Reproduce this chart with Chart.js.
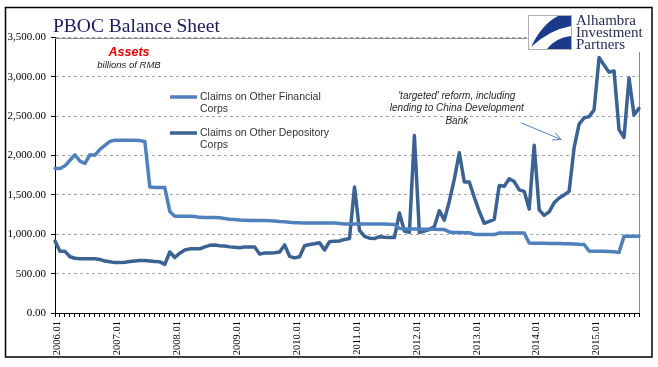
<!DOCTYPE html>
<html>
<head>
    <title>PBOC Balance Sheet</title>
    <script src="https://cdn.jsdelivr.net/npm/chart.js"></script>
    <style>
        html, body { margin: 0; padding: 0; background: #fff; }
        #wrap { width: 658px; height: 367px; }
    </style>
</head>
<body>
    <div id="wrap"><canvas id="pbocChart" width="658" height="367"></canvas></div>

    <script>
        // monthly categories 2006.01 .. 2015.10
        const months = [];
        for (let y = 2006; y <= 2015; y++) {
            for (let m = 1; m <= 12; m++) {
                if (y === 2015 && m > 10) break;
                months.push(y + '.' + String(m).padStart(2, '0'));
            }
        }

        // billions of RMB
        const financialCorps = [
            1835, 1835, 1870, 1940, 2010, 1930, 1900, 2010, 2005, 2080,
            2130, 2180, 2195, 2195, 2195, 2195, 2195, 2190, 2180, 1600,
            1594, 1594, 1594, 1290, 1230, 1229, 1229, 1229, 1225, 1215,
            1212, 1212, 1212, 1210, 1200, 1192, 1188, 1182, 1178, 1175,
            1175, 1175, 1175, 1172, 1168, 1162, 1158, 1152, 1148, 1145,
            1144, 1144, 1144, 1144, 1144, 1144, 1142, 1138, 1130, 1130,
            1130, 1130, 1130, 1130, 1130, 1130, 1130, 1128, 1125, 1075,
            1068, 1068, 1066, 1066, 1065, 1065, 1064, 1062, 1060, 1030,
            1022, 1022, 1021, 1020, 1000, 996, 996, 996, 996, 1016,
            1016, 1016, 1016, 1016, 1016, 889, 886, 885, 885, 884,
            883, 882, 880, 879, 877, 872, 870, 787, 785, 784,
            783, 780, 777, 770, 974, 974, 974, 974
        ];

        const depositoryCorps = [
            913, 785, 783, 715, 695, 690, 690, 690, 690, 680,
            660, 650, 640, 640, 645, 653, 660, 668, 668, 660,
            653, 650, 618, 775, 705, 760, 800, 815, 815, 815,
            840, 860, 865, 855, 850, 840, 835, 828, 840, 840,
            840, 748, 762, 762, 765, 775, 865, 720, 700, 715,
            855, 870, 880, 893, 800, 905, 913, 915, 935, 945,
            1600, 1050, 975, 950, 945, 970, 962, 960, 958, 1270,
            1042, 1025, 2255, 1022, 1040, 1060, 1100, 1300, 1180, 1420,
            1700, 2035, 1665, 1665, 1470, 1290, 1140, 1165, 1190, 1620,
            1610, 1705, 1670, 1565, 1545, 1320, 2130, 1310, 1240, 1285,
            1400, 1460, 1500, 1545, 2100, 2400, 2480, 2495, 2580, 3245,
            3150, 3060, 3075, 2330, 2230, 2985, 2515, 2600
        ];

        const seriesNames = ['Claims on Other Financial Corps', 'Claims on Other Depository Corps'];
        const seriesColors = ['#4F81BD', '#3A6292'];

        const noteLines = ["'targeted' reform, including", 'lending to China Development', 'Bank'];
        const logoLines = ['Alhambra', 'Investment', 'Partners'];

        // extra drawing: frame, title, notes, legend, logo
        const decorPlugin = {
            id: 'decor',
            beforeDraw(chart) {
                const ctx = chart.ctx;
                ctx.save();
                ctx.fillStyle = '#fff';
                ctx.fillRect(0, 0, chart.width, chart.height);
                ctx.restore();
            },
            beforeDatasetsDraw(chart) {
                const ctx = chart.ctx;
                const a = chart.chartArea;
                ctx.save();
                ctx.strokeStyle = '#8C8C8C';
                ctx.lineWidth = 1;
                ctx.beginPath();
                ctx.moveTo(a.left, Math.round(a.top) + 0.5);
                ctx.lineTo(a.right, Math.round(a.top) + 0.5);
                ctx.moveTo(Math.round(a.right) + 0.5, a.top);
                ctx.lineTo(Math.round(a.right) + 0.5, a.bottom);
                ctx.stroke();
                ctx.restore();
            },
            afterDraw(chart) {
                const ctx = chart.ctx;
                const a = chart.chartArea;
                const xs = chart.scales.x;
                const ys = chart.scales.y;
                ctx.save();

                // title
                ctx.fillStyle = '#1A1A5C';
                ctx.font = '19.5px "Liberation Serif"';
                ctx.textAlign = 'left';
                ctx.textBaseline = 'alphabetic';
                ctx.fillText('PBOC Balance Sheet', 53, 31.5);

                // subtitle
                ctx.textAlign = 'center';
                ctx.fillStyle = '#E00000';
                ctx.font = 'italic bold 12.5px "Liberation Sans"';
                ctx.fillText('Assets', a.left + 74, 56);
                ctx.fillStyle = '#222';
                ctx.font = 'italic 9.5px "Liberation Sans"';
                ctx.fillText('billions of RMB', a.left + 74, 68);

                // legend
                ctx.textAlign = 'left';
                ctx.textBaseline = 'middle';
                ctx.font = '10.5px "Liberation Sans"';
                const legendY = [97, 133];
                seriesNames.forEach((name, i) => {
                    const y = legendY[i];
                    ctx.strokeStyle = seriesColors[i];
                    ctx.lineWidth = 3.5;
                    ctx.beginPath();
                    ctx.moveTo(170, y);
                    ctx.lineTo(197, y);
                    ctx.stroke();
                    ctx.fillStyle = '#333';
                    const words = name.split(' ');
                    ctx.fillText(words.slice(0, -1).join(' '), 200, y);
                    ctx.fillText(words[words.length - 1], 200, y + 12);
                });

                // note + arrow
                ctx.fillStyle = '#262626';
                ctx.font = 'italic 10px "Liberation Sans"';
                ctx.textAlign = 'center';
                ctx.textBaseline = 'middle';
                const nx = xs.getPixelForValue(80.5);
                noteLines.forEach((t, i) => {
                    ctx.fillText(t, nx, ys.getPixelForValue(2755) + i * 12.5);
                });
                const x0 = xs.getPixelForValue(93.4), y0 = ys.getPixelForValue(2415);
                const x1 = xs.getPixelForValue(101.4), y1 = ys.getPixelForValue(2204);
                const ang = Math.atan2(y1 - y0, x1 - x0);
                ctx.strokeStyle = '#4F81BD';
                ctx.lineWidth = 1;
                ctx.beginPath();
                ctx.moveTo(x0, y0);
                ctx.lineTo(x1, y1);
                ctx.moveTo(x1 - 9 * Math.cos(ang - 0.45), y1 - 9 * Math.sin(ang - 0.45));
                ctx.lineTo(x1, y1);
                ctx.lineTo(x1 - 9 * Math.cos(ang + 0.45), y1 - 9 * Math.sin(ang + 0.45));
                ctx.stroke();

                // logo
                ctx.fillStyle = '#fff';
                ctx.fillRect(527, 9, 123, 43);
                ctx.strokeStyle = '#B0B0B0';
                ctx.lineWidth = 1;
                ctx.strokeRect(528.5, 15.5, 43, 34);
                ctx.fillStyle = '#1C3A8A';
                ctx.beginPath();
                ctx.moveTo(571, 16);
                ctx.lineTo(571, 26);
                ctx.quadraticCurveTo(549, 30, 531, 47);
                ctx.quadraticCurveTo(542, 24, 558, 16);
                ctx.closePath();
                ctx.fill();
                ctx.beginPath();
                ctx.moveTo(547, 49);
                ctx.quadraticCurveTo(555, 38, 571, 36);
                ctx.lineTo(571, 49);
                ctx.closePath();
                ctx.fill();
                ctx.fillStyle = '#1F2A55';
                ctx.font = '15px "Liberation Serif"';
                ctx.textAlign = 'left';
                ctx.textBaseline = 'alphabetic';
                logoLines.forEach((t, i) => ctx.fillText(t, 576, 25 + i * 12));

                // outer frame
                ctx.strokeStyle = '#000';
                ctx.lineWidth = 1.5;
                ctx.strokeRect(5.5, 7.5, 646.5, 349.5);
                ctx.restore();
            }
        };

        const ctx = document.getElementById('pbocChart').getContext('2d');
        const chart = new Chart(ctx, {
            type: 'line',
            data: {
                labels: months,
                datasets: [
                    {
                        label: seriesNames[0],
                        data: financialCorps,
                        borderColor: seriesColors[0],
                        borderWidth: 3.5,
                        pointRadius: 0,
                        tension: 0,
                        fill: false
                    },
                    {
                        label: seriesNames[1],
                        data: depositoryCorps,
                        borderColor: seriesColors[1],
                        borderWidth: 3.5,
                        pointRadius: 0,
                        tension: 0,
                        fill: false
                    }
                ]
            },
            options: {
                responsive: false,
                animation: false,
                layout: { padding: { left: 0, right: 19, top: 37.5, bottom: 0 } },
                plugins: {
                    legend: { display: false },
                    tooltip: { enabled: false }
                },
                elements: { line: { borderJoinStyle: 'round', borderCapStyle: 'round' } },
                scales: {
                    x: {
                        offset: false,
                        afterFit(scale) { scale.height = 54; },
                        grid: {
                            display: true,
                            drawOnChartArea: false,
                            tickLength: 4,
                            tickColor: '#000',
                            offset: false
                        },
                        border: { color: '#000', width: 1 },
                        ticks: {
                            autoSkip: false,
                            maxRotation: 90,
                            minRotation: 90,
                            padding: 4,
                            labelOffset: 2.5,
                            color: '#000',
                            font: { family: 'Liberation Serif', size: 10.5 },
                            callback: (v, i) => (i % 12 === 0 ? months[i] : '')
                        }
                    },
                    y: {
                        min: 0,
                        max: 3500,
                        afterFit(scale) { scale.width = 55; },
                        grid: {
                            color: (c) => (c.tick && c.tick.value === 0 ? 'rgba(0,0,0,0)' : '#A6A6A6'),
                            tickColor: '#000',
                            tickLength: 4
                        },
                        border: { color: '#000', width: 1, dash: [3, 3] },
                        ticks: {
                            stepSize: 500,
                            padding: 5,
                            color: '#000',
                            font: { family: 'Liberation Serif', size: 11 },
                            callback: (v) => v.toLocaleString('en-US', { minimumFractionDigits: 2, maximumFractionDigits: 2 })
                        }
                    }
                }
            },
            plugins: [decorPlugin]
        });
    </script>
</body>
</html>
